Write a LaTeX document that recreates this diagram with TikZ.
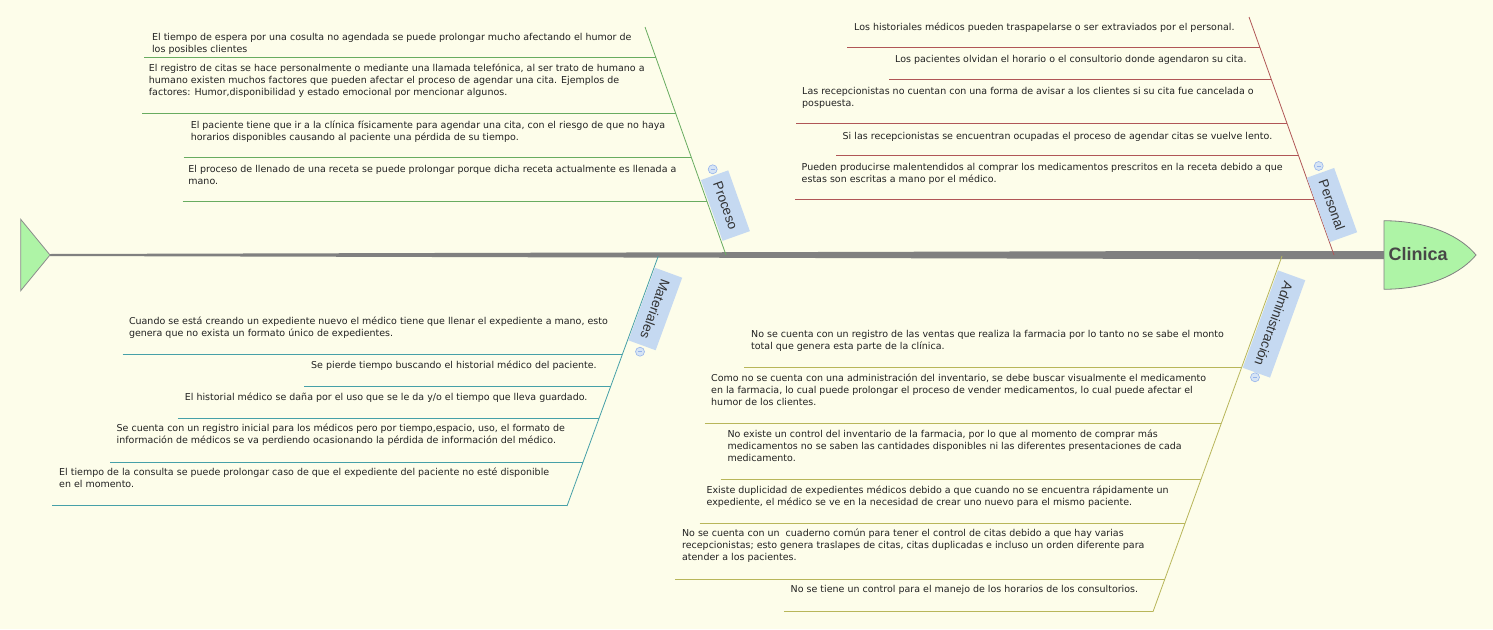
\documentclass[tikz,border=0pt]{standalone}
\usepackage{fontspec}
\setmainfont{DejaVu Sans}
\newfontfamily\labelfont{Liberation Sans}
\usetikzlibrary{calc}
\definecolor{bg}{RGB}{253,253,234}
\definecolor{procg}{RGB}{104,172,96}
\definecolor{persr}{RGB}{176,86,86}
\definecolor{matt}{RGB}{70,160,168}
\definecolor{admy}{RGB}{184,182,90}
\definecolor{lblue}{RGB}{197,217,241}
\definecolor{cblue}{RGB}{150,180,235}
\definecolor{headg}{RGB}{174,244,166}
\definecolor{spineg}{RGB}{128,128,128}
\definecolor{txt}{RGB}{34,34,34}
\begin{document}
\begin{tikzpicture}[x=1pt,y=-1pt,
  cause/.style={anchor=base west, inner sep=0pt, align=left, text=txt, font=\fontsize{9.5}{12}\selectfont},
  catlabel/.style={fill=lblue, text=black!80, font=\labelfont\fontsize{13.5}{14}\selectfont, minimum height=29pt, inner xsep=7.5pt, inner ysep=0pt},
  collapse/.style={circle, draw=cblue, fill=lblue!70, minimum size=9pt, inner sep=0pt, line width=0.6pt,
    path picture={\draw[cblue, line width=0.7pt] ([xshift=2.3pt]path picture bounding box.west) -- ([xshift=-2.3pt]path picture bounding box.east);}},
  bone/.style={line width=0.8pt},
  rib/.style={line width=0.8pt}]
\useasboundingbox[fill=bg] (0,0) rectangle (1493,629);

% spine
\coordinate (tailtip) at (50,255);
\coordinate (spinemid) at (1200,255);
\coordinate (headL) at (1384,255);
\fill[spineg] ($(tailtip)+(0,-1)$) -- ($(spinemid)+(0,-4)$) -- ($(headL)+(0,-4)$) -- ($(headL)+(0,4)$) -- ($(spinemid)+(0,4)$) -- ($(tailtip)+(0,1)$) -- cycle;

% tail
\coordinate (tailT) at (20.7,219.3);
\coordinate (tailB) at (20.7,290.7);
\draw[draw=gray!90, fill=headg, line width=0.8pt] (tailT) -- (tailtip) -- (tailB) -- cycle;

% head
\coordinate (headT) at (1384,220.7);
\coordinate (headB) at (1384,289.3);
\coordinate (headtip) at (1476,255);
\draw[draw=gray, fill=headg, line width=0.8pt] (headT) .. controls (1432,221) and (1462,238) .. (headtip) .. controls (1462,272) and (1432,289) .. (headB) -- cycle;
\node[anchor=west, inner sep=0pt, font=\labelfont\bfseries\fontsize{18}{20}\selectfont, text=black!72] (clinica) at (1388.5,254.5) {Clinica};

% ---------- Proceso ----------
\coordinate (prA) at (645,27);
\coordinate (prB) at (726,255);
\draw[bone, procg] (prA) -- (prB);
\coordinate (pr1L) at (144,57.3);   \coordinate (pr1R) at (655.8,57.3);
\coordinate (pr2L) at (142,113.3);  \coordinate (pr2R) at (675.7,113.3);
\coordinate (pr3L) at (183.5,157.3);\coordinate (pr3R) at (691.3,157.3);
\coordinate (pr4L) at (182.7,201.7);\coordinate (pr4R) at (707.1,201.7);
\foreach \i in {1,...,4} {\draw[rib, procg] (pr\i L) -- (pr\i R);}
\node[cause] (p1) at (151.9,52) {El tiempo de espera por una cosulta no agendada se puede prolongar mucho afectando el humor de\\los posibles clientes};
\node[cause] (p2) at (148.7,95.6) {El registro de citas se hace personalmente o mediante una llamada telefónica, al ser trato de humano a\\humano existen muchos factores que pueden afectar el proceso de agendar una cita. Ejemplos de\\factores: Humor,disponibilidad y estado emocional por mencionar algunos.};
\node[cause] (p3) at (190.6,140.3) {El paciente tiene que ir a la clínica físicamente para agendar una cita, con el riesgo de que no haya\\horarios disponibles causando al paciente una pérdida de su tiempo.};
\node[cause] (p4) at (188.2,184.3) {El proceso de llenado de una receta se puede prolongar porque dicha receta actualmente es llenada a\\mano.};
\node[catlabel, rotate=-70.4] (proceso) at (725.4,205.6) {Proceso};
\node[collapse] (prmin) at (712.7,169.3) {};

% ---------- Personal ----------
\coordinate (peA) at (1249,17);
\coordinate (peB) at (1334,255);
\draw[bone, persr] (peA) -- (peB);
\coordinate (pe1L) at (847,47.7);   \coordinate (pe1R) at (1260,47.7);
\coordinate (pe2L) at (889,79.7);   \coordinate (pe2R) at (1271.4,79.7);
\coordinate (pe3L) at (796,123.7);  \coordinate (pe3R) at (1287.1,123.7);
\coordinate (pe4L) at (836,155.7);  \coordinate (pe4R) at (1298.5,155.7);
\coordinate (pe5L) at (795,199.3);  \coordinate (pe5R) at (1314.1,199.3);
\foreach \i in {1,...,5} {\draw[rib, persr] (pe\i L) -- (pe\i R);}
\node[cause] (q1) at (854,30) {Los historiales médicos pueden traspapelarse o ser extraviados por el personal.};
\node[cause] (q2) at (895,62.3) {Los pacientes olvidan el horario o el consultorio donde agendaron su cita.};
\node[cause] (q3) at (802,106.3) {Las recepcionistas no cuentan con una forma de avisar a los clientes si su cita fue cancelada o\\pospuesta.};
\node[cause] (q4) at (842.5,139) {Si las recepcionistas se encuentran ocupadas el proceso de agendar citas se vuelve lento.};
\node[cause] (q5) at (801.5,182) {Pueden producirse malentendidos al comprar los medicamentos prescritos en la receta debido a que\\estas son escritas a mano por el médico.};
\node[catlabel, rotate=-70.3] (personal) at (1332,205) {Personal};
\node[collapse] (pemin) at (1318.7,166) {};

% ---------- Materiales ----------
\coordinate (maA) at (658.3,256);
\coordinate (maB) at (567,506);
\draw[bone, matt] (maA) -- (maB);
\coordinate (ma1L) at (122.6,354.3); \coordinate (ma1R) at (622.4,354.3);
\coordinate (ma2L) at (304,386.7);   \coordinate (ma2R) at (610.6,386.7);
\coordinate (ma3L) at (177.8,418.3); \coordinate (ma3R) at (599.0,418.3);
\coordinate (ma4L) at (110,462.3);   \coordinate (ma4R) at (583.0,462.3);
\coordinate (ma5L) at (52,505.7);    \coordinate (ma5R) at (567.1,505.7);
\foreach \i in {1,...,5} {\draw[rib, matt] (ma\i L) -- (ma\i R);}
\node[cause] (m1) at (128.8,336) {Cuando se está creando un expediente nuevo el médico tiene que llenar el expediente a mano, esto\\genera que no exista un formato único de expedientes.};
\node[cause] (m2) at (311,368.3) {Se pierde tiempo buscando el historial médico del paciente.};
\node[cause] (m3) at (184.7,400) {El historial médico se daña por el uso que se le da y/o el tiempo que lleva guardado.};
\node[cause] (m4) at (116.5,443.6) {Se cuenta con un registro inicial para los médicos pero por tiempo,espacio, uso, el formato de\\información de médicos se va perdiendo ocasionando la pérdida de información del médico.};
\node[cause] (m5) at (59,487.6) {El tiempo de la consulta se puede prolongar caso de que el expediente del paciente no esté disponible\\en el momento.};
\node[catlabel, rotate=-110.1] (materiales) at (655.3,309) {Materiales};
\node[collapse] (mamin) at (640,351.7) {};

% ---------- Administracion ----------
\coordinate (adA) at (1282,256);
\coordinate (adB) at (1153,611.7);
\draw[bone, admy] (adA) -- (adB);
\coordinate (ad1L) at (744.3,367.7); \coordinate (ad1R) at (1241.5,367.7);
\coordinate (ad2L) at (704.8,423.3); \coordinate (ad2R) at (1221.3,423.3);
\coordinate (ad3L) at (720.6,479.3); \coordinate (ad3R) at (1201.0,479.3);
\coordinate (ad4L) at (699.6,523.3); \coordinate (ad4R) at (1185.1,523.3);
\coordinate (ad5L) at (675,579);     \coordinate (ad5R) at (1164.9,579);
\coordinate (ad6L) at (783.8,611.7); \coordinate (ad6R) at (1153,611.7);
\foreach \i in {1,...,6} {\draw[rib, admy] (ad\i L) -- (ad\i R);}
\node[cause] (a1) at (751,349.3) {No se cuenta con un registro de las ventas que realiza la farmacia por lo tanto no se sabe el monto\\total que genera esta parte de la clínica.};
\node[cause] (a2) at (711,405) {Como no se cuenta con una administración del inventario, se debe buscar visualmente el medicamento\\en la farmacia, lo cual puede prolongar el proceso de vender medicamentos, lo cual puede afectar el\\humor de los clientes.};
\node[cause] (a3) at (727.3,461.3) {No existe un control del inventario de la farmacia, por lo que al momento de comprar más\\medicamentos no se saben las cantidades disponibles ni las diferentes presentaciones de cada\\medicamento.};
\node[cause] (a4) at (706.4,505.3) {Existe duplicidad de expedientes médicos debido a que cuando no se encuentra rápidamente un\\expediente, el médico se ve en la necesidad de crear uno nuevo para el mismo paciente.};
\node[cause] (a5) at (681.9,560.6) {No se cuenta con un\ \ cuaderno común para tener el control de citas debido a que hay varias\\recepcionistas; esto genera traslapes de citas, citas duplicadas e incluso un orden diferente para\\atender a los pacientes.};
\node[cause] (a6) at (790.5,592.6) {No se tiene un control para el manejo de los horarios de los consultorios.};
\node[catlabel, rotate=-109.9] (administracion) at (1274,324) {Administración};
\node[collapse] (admin) at (1255,377.3) {};
\end{tikzpicture}
\end{document}
